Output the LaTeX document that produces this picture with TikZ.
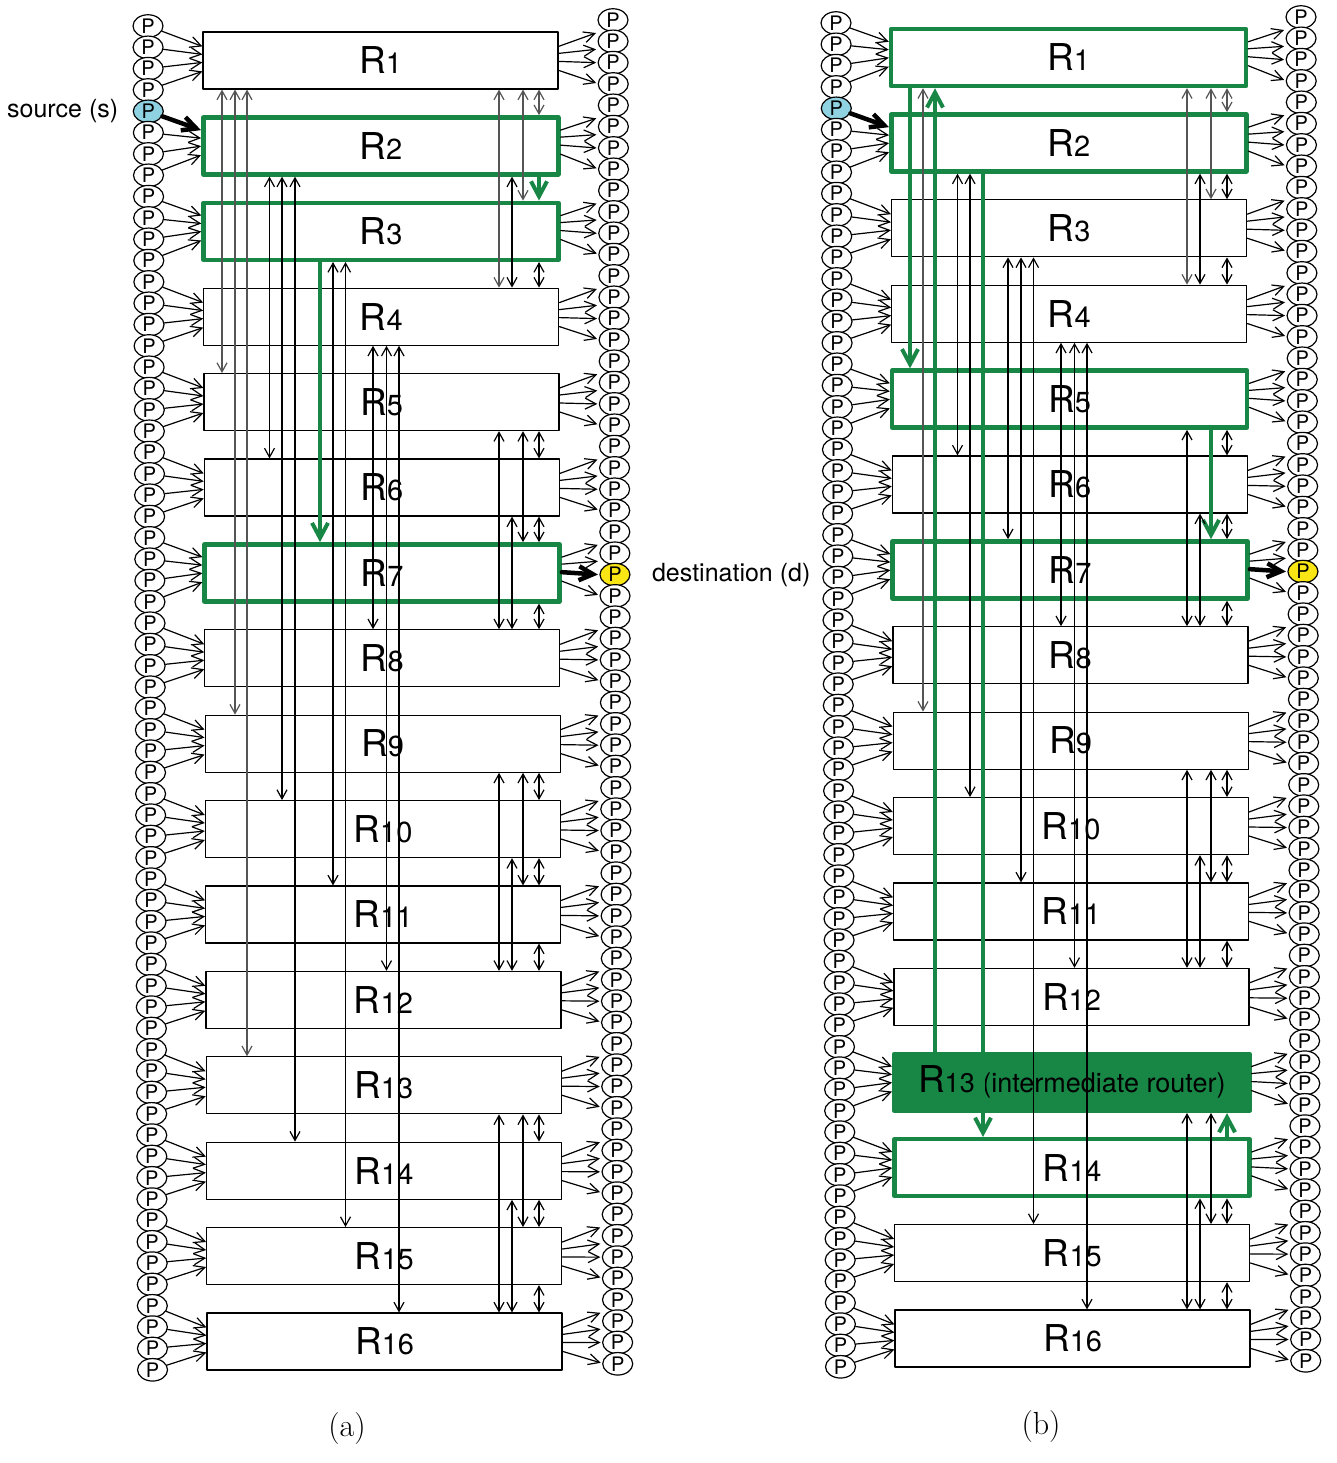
\documentclass[tikz,border=0pt]{standalone}
\usepackage{fontspec}
\newfontfamily\heros{TeX Gyre Heros}
\usetikzlibrary{shapes.geometric,arrows.meta,calc,positioning}
\definecolor{pathgreen}{RGB}{24,135,70}
\definecolor{srcblue}{RGB}{143,211,226}
\definecolor{dstyellow}{RGB}{250,230,20}
\definecolor{linkgray}{RGB}{85,85,85}
\newcommand{\rbig}{\fontsize{37}{37}\selectfont}
\newcommand{\rsmall}{\fontsize{29}{29}\selectfont}
\newcommand{\rhub}{\fontsize{27}{27}\selectfont}

\begin{document}
\begin{tikzpicture}[x=1pt, y=-1pt, font=\heros, line join=round, line cap=round,
	router/.style={draw, fill=white, line width=1.2pt, minimum width=355pt, minimum height=57pt, inner sep=0pt},
	hl/.style={draw=pathgreen, line width=4.5pt},
	hub/.style={draw=pathgreen, fill=pathgreen, line width=4.5pt},
	port/.style={ellipse, draw, fill=white, line width=1.2pt, minimum width=30pt, minimum height=22.5pt, inner sep=0pt, font=\heros\fontsize{20}{20}\selectfont},
	parr/.style={line width=1.2pt, -{Straight Barb[length=11pt,width=11pt]}},
	link/.style={line width=1.2pt, {Straight Barb[length=9pt,width=10pt]}-{Straight Barb[length=9pt,width=10pt]}},
	bold/.style={line width=4.5pt, -{Straight Barb[length=14pt,width=14pt]}},
	gdown/.style={draw=pathgreen, line width=4pt, -{Straight Barb[length=15pt,width=16pt]}},
	gup/.style={draw=pathgreen, line width=4pt, {Straight Barb[length=15pt,width=16pt]}-},
	% duong di o hinh (a)
	aR2/.style={hl}, aR3/.style={hl}, aR7/.style={hl},
	aPL4/.style={fill=srcblue}, aPR26/.style={fill=dstyellow},
	ain4/.style={bold}, aout26/.style={bold},
	aL2-3/.style={gdown}, aL3-7/.style={gdown},
	% duong di o hinh (b)
	bR1/.style={hl}, bR2/.style={hl}, bR5/.style={hl}, bR7/.style={hl}, bR14/.style={hl}, bR13/.style={hub},
	bPL4/.style={fill=srcblue}, bPR26/.style={fill=dstyellow},
	bin4/.style={bold}, bout26/.style={bold},
	bL2-14/.style={gdown}, bL1-13/.style={gup}, bL1-5/.style={gdown}, bL5-7/.style={gdown}, bL13-14/.style={gup}]
	\useasboundingbox (0,0) rectangle (1337,1463);
	
	\foreach \pn/\px/\py/\hub in {a/0/0/0, b/688/-3/13} {
		% Ve cac router
		\foreach \k in {1,...,16}
			\node[router, \pn R\k/.try] (\pn R\k) at ({\px+380.5+0.27*(\k-1)}, {\py+60.5+85.4*(\k-1)})
				{\ifnum\k=\hub {\rbig R}{\rhub\k\ (intermediate router)}\else {\rbig R}{\rsmall\k}\fi};
		
		% Ve cac cong P hai ben
		\foreach \n in {0,...,63} {
			\node[port, \pn PL\n/.try] (\pn PL\n) at ({\px+148+0.072*\n}, {\py+26+21.33*\n}) {P};
			\node[port, \pn PR\n/.try] (\pn PR\n) at ({\px+613+0.075*\n}, {\py+20+21.33*\n}) {P};
		}
		
		% Mui ten vao va ra
		\foreach \k in {1,...,16}
			\foreach \jj/\ty/\sy/\oy in {0/15/15/13, 1/23/22/8, 2/31/30/0, 3/40/39/-1} {
				\pgfmathtruncatemacro\n{4*(\k-1)+\jj}
				\draw[parr, \pn in\n/.try] (\pn PL\n) -- ($(\pn R\k.north west)+(0,\ty)$);
				\draw[parr, \pn out\n/.try] ($(\pn R\k.north east)+(0,\sy)$) -- ($(\pn PR\n.center)+(-17,\oy)$);
			}
		
		% Lien ket theo cot
		\foreach \ra/\rb/\lx in {1/5/222, 1/9/235, 1/13/247, 2/6/269.5, 2/10/282, 2/14/295,
				3/7/320, 3/11/333, 3/15/345.5, 4/8/373, 4/12/386.5, 4/16/399} {
			\pgfmathsetmacro\lxx{\px+\lx}
			\ifnum\ra=1 \def\cl{linkgray}\else\def\cl{black}\fi
			\draw[link, draw=\cl, \pn L\ra-\rb/.try] (\pn R\ra.south -| \lxx,0) -- (\pn R\rb.north -| \lxx,0);
		}
		
		% Lien ket trong moi nhom 4 router
		\foreach \g in {0,4,8,12}
			\foreach \ua/\ub/\lx in {1/2/539, 2/3/539, 3/4/539, 1/3/523, 1/4/499, 2/4/512} {
				\pgfmathtruncatemacro\ra{\g+\ua}
				\pgfmathtruncatemacro\rb{\g+\ub}
				\pgfmathsetmacro\lxx{\px+\lx}
				\ifnum\ra=1 \def\cl{linkgray}\else\def\cl{black}\fi
				\draw[link, draw=\cl, \pn L\ra-\rb/.try] (\pn R\ra.south -| \lxx,0) -- (\pn R\rb.north -| \lxx,0);
			}
	}
	
	% Nhan nguon, dich va chu thich
	\node[left=11pt of aPL4, font=\heros\fontsize{25}{25}\selectfont] (srclab) {source (s)};
	\node[right=18pt of aPR26, font=\heros\fontsize{25}{25}\selectfont] (dstlab) {destination (d)};
	\node[font=\rmfamily\fontsize{32}{32}\selectfont] (capa) at (347,1428) {(a)};
	\node[font=\rmfamily\fontsize{32}{32}\selectfont] (capb) at (1041,1426) {(b)};
\end{tikzpicture}
\end{document}
